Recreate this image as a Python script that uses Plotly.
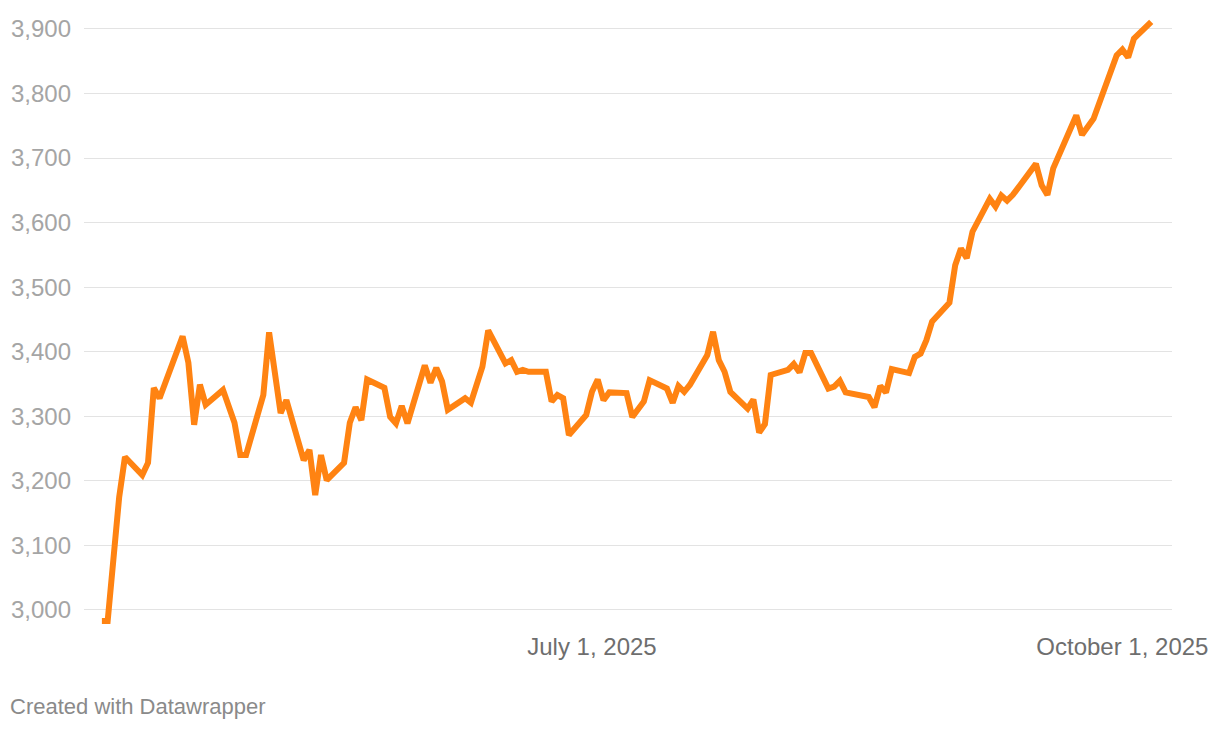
import plotly.graph_objects as go

dates = [
    "2025-04-07", "2025-04-08", "2025-04-10", "2025-04-11", "2025-04-14", "2025-04-15",
    "2025-04-16", "2025-04-17", "2025-04-21", "2025-04-22", "2025-04-23", "2025-04-24",
    "2025-04-25", "2025-04-28", "2025-04-30", "2025-05-01", "2025-05-02", "2025-05-05",
    "2025-05-06", "2025-05-08", "2025-05-09", "2025-05-12", "2025-05-13", "2025-05-14",
    "2025-05-15", "2025-05-16", "2025-05-19", "2025-05-20", "2025-05-21", "2025-05-22",
    "2025-05-23", "2025-05-26", "2025-05-27", "2025-05-28", "2025-05-29", "2025-05-30",
    "2025-06-02", "2025-06-03", "2025-06-04", "2025-06-05", "2025-06-06", "2025-06-09",
    "2025-06-10", "2025-06-12", "2025-06-13", "2025-06-16", "2025-06-17", "2025-06-18",
    "2025-06-19", "2025-06-20", "2025-06-23", "2025-06-24", "2025-06-25", "2025-06-26",
    "2025-06-27", "2025-06-30", "2025-07-01", "2025-07-02", "2025-07-03", "2025-07-04",
    "2025-07-07", "2025-07-08", "2025-07-10", "2025-07-11", "2025-07-14", "2025-07-15",
    "2025-07-16", "2025-07-17", "2025-07-18", "2025-07-21", "2025-07-22", "2025-07-23",
    "2025-07-24", "2025-07-25", "2025-07-28", "2025-07-29", "2025-07-30", "2025-07-31",
    "2025-08-01", "2025-08-04", "2025-08-05", "2025-08-06", "2025-08-07", "2025-08-08",
    "2025-08-11", "2025-08-12", "2025-08-13", "2025-08-14", "2025-08-18", "2025-08-19",
    "2025-08-20", "2025-08-21", "2025-08-22", "2025-08-25", "2025-08-26", "2025-08-27",
    "2025-08-28", "2025-08-29", "2025-09-01", "2025-09-02", "2025-09-03", "2025-09-04",
    "2025-09-05", "2025-09-08", "2025-09-09", "2025-09-10", "2025-09-11", "2025-09-12",
    "2025-09-16", "2025-09-17", "2025-09-18", "2025-09-19", "2025-09-23", "2025-09-24",
    "2025-09-26", "2025-09-30", "2025-10-01", "2025-10-02", "2025-10-03", "2025-10-06",
]

prices = [
    2983, 2983, 3175, 3237, 3209, 3228,
    3344, 3328, 3424, 3383, 3287, 3349,
    3318, 3341, 3290, 3240, 3240, 3333,
    3430, 3305, 3325, 3232, 3248, 3178,
    3240, 3201, 3228, 3290, 3314, 3294,
    3357, 3344, 3299, 3289, 3316, 3289,
    3379, 3352, 3375, 3354, 3310, 3328,
    3321, 3377, 3433, 3382, 3387, 3369,
    3372, 3369, 3369, 3323, 3333, 3328,
    3271, 3302, 3338, 3357, 3325, 3337,
    3336, 3299, 3323, 3356, 3343, 3321,
    3347, 3338, 3349, 3395, 3431, 3387,
    3369, 3338, 3312, 3326, 3275, 3288,
    3364, 3372, 3381, 3368, 3398, 3398,
    3343, 3346, 3355, 3337, 3330, 3314,
    3347, 3337, 3373, 3367, 3392, 3397,
    3418, 3447, 3476, 3534, 3560, 3545,
    3586, 3637, 3625, 3642, 3634, 3643,
    3691, 3658, 3643, 3684, 3766, 3736,
    3761, 3859, 3868, 3856, 3885, 3911,
]

y_ticks = [3000, 3100, 3200, 3300, 3400, 3500, 3600, 3700, 3800, 3900]
x_tick_vals = ["2025-07-01", "2025-10-01"]
x_tick_text = ["July 1, 2025", "October 1, 2025"]
footer_text = "Created with Datawrapper"

fig = go.Figure()
fig.add_trace(go.Scatter(
    x=dates, y=prices, mode="lines",
    line=dict(color="#ff8312", width=6),
    hoverinfo="x+y",
))

fig.update_layout(
    width=1212, height=722,
    margin=dict(l=76, r=48, t=2, b=94),
    paper_bgcolor="white", plot_bgcolor="white",
    showlegend=False,
    font=dict(family="Liberation Sans, Arial, sans-serif"),
    xaxis=dict(
        type="date",
        range=["2025-04-03 21:30", "2025-10-09 14:30"],
        tickvals=x_tick_vals, ticktext=x_tick_text,
        showgrid=False, zeroline=False, showline=False,
        ticks="", tickfont=dict(size=24, color="#6e6e6e"),
        ticklabelstandoff=-6,
        fixedrange=True,
    ),
    yaxis=dict(
        range=[2959.7, 3929.4],
        tickvals=y_ticks, tickformat=",d",
        showgrid=True, gridcolor="#e3e3e3", gridwidth=1,
        zeroline=False, showline=False, ticks="",
        ticklabelstandoff=12,
        tickfont=dict(size=24, color="#a5a5a5"),
        fixedrange=True,
    ),
    annotations=[dict(
        text=footer_text, xref="paper", yref="paper",
        x=-76 / 1088, y=-70 / 626, xanchor="left", yanchor="middle",
        showarrow=False, font=dict(size=22, color="#8a8a8a"),
    )],
)

fig.write_html("out.html")
